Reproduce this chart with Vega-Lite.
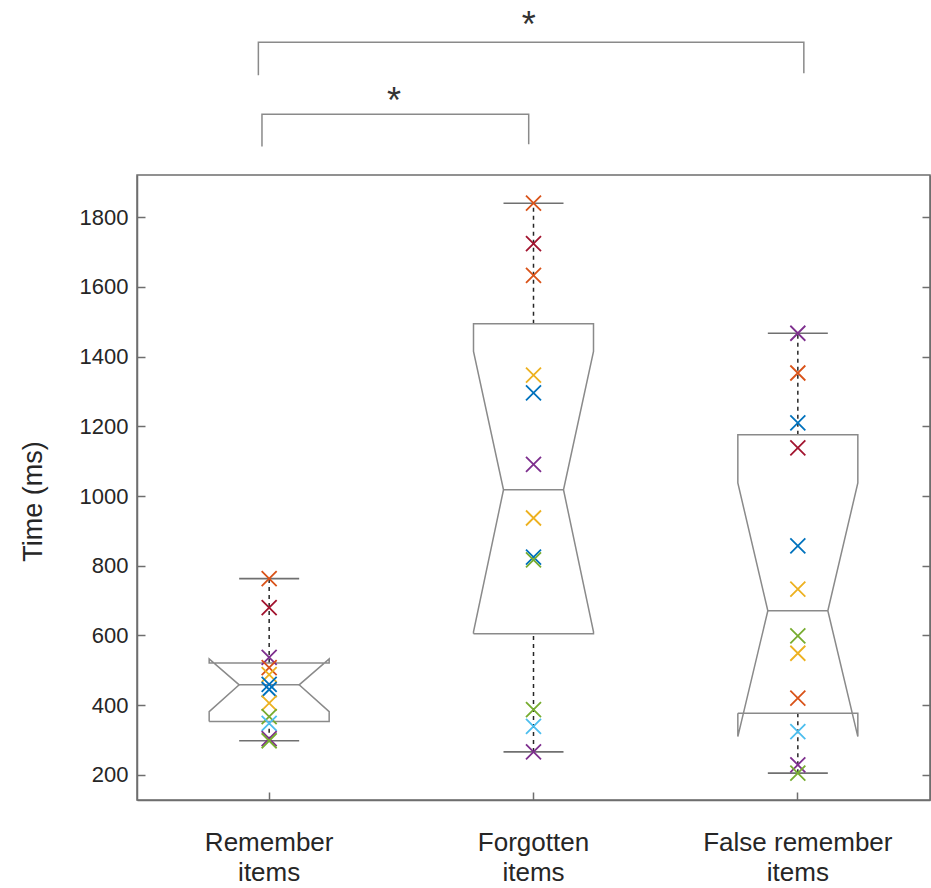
{
  "$schema": "https://vega.github.io/schema/vega-lite/v6.json",
  "width": 793,
  "height": 625,
  "autosize": {"type": "none"},
  "padding": {"left": 137, "top": 175, "right": 1, "bottom": 88},
  "background": "white",
  "config": {
    "view": {"stroke": "#6e6e6e", "strokeWidth": 1.5},
    "font": "Liberation Sans"
  },
  "datasets": {
    "points": [
      {"g": "Remember items", "s": "S2", "t": 763},
      {"g": "Remember items", "s": "S7", "t": 680},
      {"g": "Remember items", "s": "S4", "t": 537},
      {"g": "Remember items", "s": "S9", "t": 508},
      {"g": "Remember items", "s": "S3", "t": 488},
      {"g": "Remember items", "s": "S1", "t": 460},
      {"g": "Remember items", "s": "S8", "t": 445},
      {"g": "Remember items", "s": "S10", "t": 406},
      {"g": "Remember items", "s": "S5", "t": 367},
      {"g": "Remember items", "s": "S6", "t": 348},
      {"g": "Remember items", "s": "S11", "t": 304},
      {"g": "Remember items", "s": "S12", "t": 298},
      {"g": "Forgotten items", "s": "S2", "t": 1840},
      {"g": "Forgotten items", "s": "S7", "t": 1724},
      {"g": "Forgotten items", "s": "S9", "t": 1633},
      {"g": "Forgotten items", "s": "S3", "t": 1347},
      {"g": "Forgotten items", "s": "S1", "t": 1296},
      {"g": "Forgotten items", "s": "S4", "t": 1091},
      {"g": "Forgotten items", "s": "S10", "t": 937},
      {"g": "Forgotten items", "s": "S8", "t": 825},
      {"g": "Forgotten items", "s": "S5", "t": 817},
      {"g": "Forgotten items", "s": "S12", "t": 387},
      {"g": "Forgotten items", "s": "S6", "t": 339},
      {"g": "Forgotten items", "s": "S11", "t": 266},
      {"g": "False remember items", "s": "S4", "t": 1467},
      {"g": "False remember items", "s": "S9", "t": 1353},
      {"g": "False remember items", "s": "S1", "t": 1210},
      {"g": "False remember items", "s": "S7", "t": 1138},
      {"g": "False remember items", "s": "S8", "t": 857},
      {"g": "False remember items", "s": "S3", "t": 733},
      {"g": "False remember items", "s": "S5", "t": 599},
      {"g": "False remember items", "s": "S10", "t": 549},
      {"g": "False remember items", "s": "S2", "t": 420},
      {"g": "False remember items", "s": "S6", "t": 324},
      {"g": "False remember items", "s": "S11", "t": 229},
      {"g": "False remember items", "s": "S12", "t": 205}
    ],
    "boxes": [
      {"g": "Remember items", "q1": 353, "q3": 520.7, "lo": 298, "hi": 763},
      {"g": "Forgotten items", "q1": 604.8, "q3": 1494, "lo": 266, "hi": 1840},
      {"g": "False remember items", "q1": 377, "q3": 1176, "lo": 205, "hi": 1467}
    ],
    "outline": [
      {"g": "Remember items", "part": "R", "k": 0, "dx": -1, "v": 353},
      {"g": "Remember items", "part": "R", "k": 1, "dx": -1, "v": 381.7},
      {"g": "Remember items", "part": "R", "k": 2, "dx": -0.5, "v": 458.4},
      {"g": "Remember items", "part": "R", "k": 3, "dx": -1, "v": 533},
      {"g": "Remember items", "part": "R", "k": 4, "dx": -1, "v": 520.7},
      {"g": "Remember items", "part": "R", "k": 5, "dx": 1, "v": 520.7},
      {"g": "Remember items", "part": "R", "k": 6, "dx": 1, "v": 533},
      {"g": "Remember items", "part": "R", "k": 7, "dx": 0.5, "v": 458.4},
      {"g": "Remember items", "part": "R", "k": 8, "dx": 1, "v": 381.7},
      {"g": "Remember items", "part": "R", "k": 9, "dx": 1, "v": 353},
      {"g": "Remember items", "part": "R", "k": 10, "dx": -1, "v": 353},
      {"g": "Remember items", "part": "Rm", "k": 0, "dx": -0.5, "v": 458.4},
      {"g": "Remember items", "part": "Rm", "k": 1, "dx": 0.5, "v": 458.4},
      {"g": "Forgotten items", "part": "F", "k": 0, "dx": -1, "v": 604.8},
      {"g": "Forgotten items", "part": "F", "k": 1, "dx": -1, "v": 610.6},
      {"g": "Forgotten items", "part": "F", "k": 2, "dx": -0.5, "v": 1018},
      {"g": "Forgotten items", "part": "F", "k": 3, "dx": -1, "v": 1415},
      {"g": "Forgotten items", "part": "F", "k": 4, "dx": -1, "v": 1494},
      {"g": "Forgotten items", "part": "F", "k": 5, "dx": 1, "v": 1494},
      {"g": "Forgotten items", "part": "F", "k": 6, "dx": 1, "v": 1415},
      {"g": "Forgotten items", "part": "F", "k": 7, "dx": 0.5, "v": 1018},
      {"g": "Forgotten items", "part": "F", "k": 8, "dx": 1, "v": 610.6},
      {"g": "Forgotten items", "part": "F", "k": 9, "dx": 1, "v": 604.8},
      {"g": "Forgotten items", "part": "F", "k": 10, "dx": -1, "v": 604.8},
      {"g": "Forgotten items", "part": "Fm", "k": 0, "dx": -0.5, "v": 1018},
      {"g": "Forgotten items", "part": "Fm", "k": 1, "dx": 0.5, "v": 1018},
      {"g": "False remember items", "part": "X", "k": 0, "dx": -1, "v": 377},
      {"g": "False remember items", "part": "X", "k": 1, "dx": -1, "v": 310},
      {"g": "False remember items", "part": "X", "k": 2, "dx": -0.5, "v": 670.8},
      {"g": "False remember items", "part": "X", "k": 3, "dx": -1, "v": 1037.5},
      {"g": "False remember items", "part": "X", "k": 4, "dx": -1, "v": 1176},
      {"g": "False remember items", "part": "X", "k": 5, "dx": 1, "v": 1176},
      {"g": "False remember items", "part": "X", "k": 6, "dx": 1, "v": 1037.5},
      {"g": "False remember items", "part": "X", "k": 7, "dx": 0.5, "v": 670.8},
      {"g": "False remember items", "part": "X", "k": 8, "dx": 1, "v": 310},
      {"g": "False remember items", "part": "X", "k": 9, "dx": 1, "v": 377},
      {"g": "False remember items", "part": "X", "k": 10, "dx": -1, "v": 377},
      {"g": "False remember items", "part": "Xm", "k": 0, "dx": -0.5, "v": 670.8},
      {"g": "False remember items", "part": "Xm", "k": 1, "dx": 0.5, "v": 670.8}
    ],
    "brackets": [
      {"b": "A", "k": 0, "g": "Remember items", "dx": -0.18, "v": 2207},
      {"b": "A", "k": 1, "g": "Remember items", "dx": -0.18, "v": 2302},
      {"b": "A", "k": 2, "g": "False remember items", "dx": 0.1, "v": 2302},
      {"b": "A", "k": 3, "g": "False remember items", "dx": 0.1, "v": 2213},
      {"b": "B", "k": 0, "g": "Remember items", "dx": -0.12, "v": 2003},
      {"b": "B", "k": 1, "g": "Remember items", "dx": -0.12, "v": 2095},
      {"b": "B", "k": 2, "g": "Forgotten items", "dx": -0.08, "v": 2095},
      {"b": "B", "k": 3, "g": "Forgotten items", "dx": -0.08, "v": 2009}
    ],
    "stars": [
      {"g": "Forgotten items", "dx": -0.08, "v": 2318, "label": "*"},
      {"g": "Remember items", "dx": 2.08, "v": 2100, "label": "*"}
    ]
  },
  "resolve": {"axis": {"y": "independent"}},
  "layer": [
    {
      "data": {"name": "boxes"},
      "mark": {"type": "rule", "color": "#262626", "strokeWidth": 1.5, "strokeDash": [4, 4]},
      "encoding": {
        "x": {"field": "g", "type": "nominal", "scale": {"type": "band", "paddingInner": 0, "paddingOuter": 0, "domain": ["Remember items", "Forgotten items", "False remember items"]},
          "axis": {"title": null, "labelAngle": 0, "labelLimit": 0, "labelExpr": "[replace(datum.label, ' items', ''), 'items']", "labelFontSize": 26, "labelLineHeight": 30, "labelColor": "#262626", "labelPadding": 37, "tickSize": -8, "tickColor": "#6e6e6e", "tickWidth": 1.5, "domainColor": "#6e6e6e", "domainWidth": 1.5, "grid": false, "labelFont": "Liberation Sans"}},
        "y": {"field": "q3", "type": "quantitative", "scale": {"domain": [128, 1921], "nice": false, "zero": false},
          "axis": {"title": "Time (ms)", "format": "d", "values": [200, 400, 600, 800, 1000, 1200, 1400, 1600, 1800], "grid": false, "tickSize": -8, "tickColor": "#6e6e6e", "tickWidth": 1.5, "domainColor": "#6e6e6e", "domainWidth": 1.5, "labelPadding": 17, "labelFontSize": 22, "labelColor": "#262626", "labelFont": "Liberation Sans", "titleFont": "Liberation Sans", "titleFontSize": 27, "titleFontWeight": "normal", "titleColor": "#262626", "titleAngle": 270, "titleX": -104, "titleY": 326, "titleAlign": "center", "titleBaseline": "middle"}},
        "y2": {"field": "hi"}
      }
    },
    {
      "data": {"name": "boxes"},
      "mark": {"type": "rule", "color": "#262626", "strokeWidth": 1.5, "strokeDash": [4, 4]},
      "encoding": {
        "x": {"field": "g", "type": "nominal", "scale": {"type": "band", "paddingInner": 0, "paddingOuter": 0, "domain": ["Remember items", "Forgotten items", "False remember items"]},
          "axis": {"title": null, "labelAngle": 0, "labelLimit": 0, "labelExpr": "[replace(datum.label, ' items', ''), 'items']", "labelFontSize": 26, "labelLineHeight": 30, "labelColor": "#262626", "labelPadding": 37, "tickSize": -8, "tickColor": "#6e6e6e", "tickWidth": 1.5, "domainColor": "#6e6e6e", "domainWidth": 1.5, "grid": false, "labelFont": "Liberation Sans"}},
        "y": {"field": "lo", "type": "quantitative", "scale": {"domain": [128, 1921], "nice": false, "zero": false},
          "axis": {"orient": "right", "title": null, "labels": false, "values": [200, 400, 600, 800, 1000, 1200, 1400, 1600, 1800], "grid": false, "tickSize": -8, "tickColor": "#6e6e6e", "tickWidth": 1.5, "domainColor": "#6e6e6e", "domainWidth": 1.5}},
        "y2": {"field": "q1"}
      }
    },
    {
      "data": {"name": "boxes"},
      "transform": [{"fold": ["lo", "hi"], "as": ["which", "cap"]}],
      "mark": {"type": "tick", "orient": "horizontal", "color": "#333333", "size": 60, "thickness": 1.6},
      "encoding": {
        "x": {"field": "g", "type": "nominal", "scale": {"type": "band", "paddingInner": 0, "paddingOuter": 0, "domain": ["Remember items", "Forgotten items", "False remember items"]}},
        "y": {"field": "cap", "type": "quantitative", "axis": null}
      }
    },
    {
      "data": {"name": "outline"},
      "mark": {"type": "line", "color": "#8a8a8a", "strokeWidth": 1.5},
      "encoding": {
        "x": {"field": "g", "type": "nominal", "scale": {"type": "band", "paddingInner": 0, "paddingOuter": 0, "domain": ["Remember items", "Forgotten items", "False remember items"]}},
        "xOffset": {"field": "dx", "type": "quantitative", "scale": {"domain": [-1, 1], "range": [72.17, 192.17]}},
        "y": {"field": "v", "type": "quantitative", "axis": null},
        "detail": {"field": "part"},
        "order": {"field": "k"}
      }
    },
    {
      "data": {"name": "brackets"},
      "mark": {"type": "line", "color": "#8a8a8a", "strokeWidth": 1.5},
      "encoding": {
        "x": {"field": "g", "type": "nominal", "scale": {"type": "band", "paddingInner": 0, "paddingOuter": 0, "domain": ["Remember items", "Forgotten items", "False remember items"]}},
        "xOffset": {"field": "dx", "type": "quantitative"},
        "y": {"field": "v", "type": "quantitative", "axis": null},
        "detail": {"field": "b"},
        "order": {"field": "k"}
      }
    },
    {
      "data": {"name": "stars"},
      "mark": {"type": "text", "fontSize": 36, "color": "#333333", "baseline": "alphabetic", "align": "center", "font": "Liberation Sans"},
      "encoding": {
        "x": {"field": "g", "type": "nominal", "scale": {"type": "band", "paddingInner": 0, "paddingOuter": 0, "domain": ["Remember items", "Forgotten items", "False remember items"]}},
        "xOffset": {"field": "dx", "type": "quantitative"},
        "y": {"field": "v", "type": "quantitative", "axis": null},
        "text": {"field": "label"}
      }
    },
    {
      "data": {"name": "points"},
      "mark": {"type": "point", "shape": "M-1,-1L1,1M-1,1L1,-1", "filled": false, "size": 225, "strokeWidth": 1.8, "opacity": 1},
      "encoding": {
        "x": {"field": "g", "type": "nominal", "scale": {"type": "band", "paddingInner": 0, "paddingOuter": 0, "domain": ["Remember items", "Forgotten items", "False remember items"]}},
        "y": {"field": "t", "type": "quantitative", "axis": null},
        "color": {"field": "s", "type": "nominal", "legend": null,
          "scale": {"domain": ["S1", "S2", "S3", "S4", "S5", "S6", "S7", "S8", "S9", "S10", "S11", "S12"],
                    "range": ["#0072BD", "#D95319", "#EDB120", "#7E2F8E", "#77AC30", "#4DBEEE", "#A2142F", "#0072BD", "#D95319", "#EDB120", "#7E2F8E", "#77AC30"]}}
      }
    }
  ]
}
